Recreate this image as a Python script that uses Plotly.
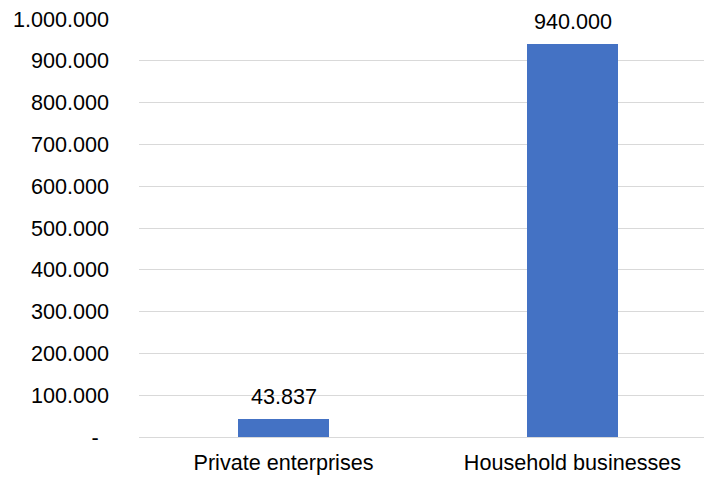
import plotly.graph_objects as go

categories = ["Private enterprises", "Household businesses"]
values = [43837, 940000]
tick_values = [0, 100000, 200000, 300000, 400000, 500000, 600000, 700000, 800000, 900000, 1000000]


def fmt(v):
    if v == 0:
        return "-\u00a0\u2009"
    return f"{v:,.0f}".replace(",", ".")


tick_labels = [fmt(v) for v in tick_values]
bar_labels = [fmt(v) for v in values]

FONT = "Liberation Sans, Arial, sans-serif"
FS = 21.6

fig = go.Figure()
fig.add_trace(go.Bar(
    x=categories, y=values, width=0.315,
    marker=dict(color="#4472C4", line=dict(width=0)),
    hoverinfo="skip",
))

for c, v, t in zip(categories, values, bar_labels):
    fig.add_annotation(x=c, y=v, text=t, showarrow=False, yanchor="middle",
                       yshift=22.5, font=dict(family=FONT, size=FS, color="#000000"))

fig.update_layout(
    width=704, height=478,
    margin=dict(l=139, r=0, t=19, b=41),
    paper_bgcolor="white", plot_bgcolor="white",
    showlegend=False,
    font=dict(family=FONT, size=FS, color="#000000"),
    bargap=0,
)
fig.update_xaxes(
    range=[-0.5, 1.455], showgrid=False, showline=False, zeroline=False,
    ticks="", ticklabelstandoff=10,
    tickfont=dict(family=FONT, size=FS, color="#000000"),
)
fig.update_yaxes(
    range=[0, 1000000], tickvals=tick_values, ticktext=tick_labels,
    showgrid=True, gridcolor="#D9D9D9", gridwidth=1.3,
    zeroline=True, zerolinecolor="#D9D9D9", zerolinewidth=1.3,
    showline=False, ticks="", ticklabelstandoff=29,
    tickfont=dict(family=FONT, size=FS, color="#000000"),
)

fig.write_html("out.html")
